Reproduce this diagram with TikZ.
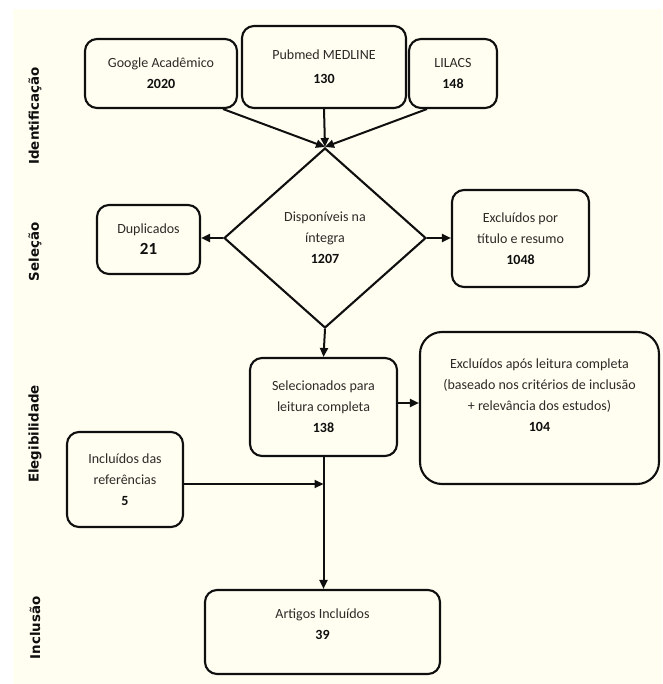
\documentclass[tikz,border=0pt]{standalone}
\usepackage{fontspec}
\setmainfont{Carlito}
\newfontfamily\labelfont{DejaVu Sans}
\usetikzlibrary{shapes.geometric,arrows.meta}
\definecolor{cream}{RGB}{255,254,241}
\definecolor{txt}{RGB}{45,42,40}
\definecolor{ink}{RGB}{15,15,15}
\tikzset{
  box/.style={draw=ink, line width=2.1pt, rounded corners=12pt, fill=cream,
    align=center, text=txt, inner sep=0pt,
    font=\fontsize{14}{21}\selectfont},
  dia/.style={draw=ink, line width=2.1pt, shape=diamond, fill=cream,
    align=center, text=txt, inner sep=0pt,
    font=\fontsize{14}{21}\selectfont},
  conn/.style={draw=ink, line width=2pt, -{Triangle[length=9pt,width=8pt]}},
  phase/.style={rotate=90, text=ink, font=\labelfont\bfseries\fontsize{13.4}{16}\selectfont}
}
\newcommand{\nb}[1]{{\bfseries\color{ink}#1}}
\begin{document}
\begin{tikzpicture}[x=1pt,y=-1pt]
\useasboundingbox (0,0) rectangle (662,684);
\fill[white] (0,0) rectangle (662,684);
\fill[cream] (13,9) rectangle (662,684);

% phase labels
\node[phase] (lid) at (35,116) {Identificação};
\node[phase] (lsel) at (35,252) {Seleção};
\node[phase] (leg) at (35,434) {Elegibilidade};
\node[phase] (linc) at (35,628) {Inclusão};

% identification boxes
\node[box, minimum width=152pt, minimum height=69pt] (g) at (161,73.5)
  {Google Acadêmico\\ \nb{2020}};
\node[box, minimum width=164pt, minimum height=82pt] (p) at (324,67)
  {Pubmed MEDLINE\\[3pt] \nb{130}};
\node[box, minimum width=88pt, minimum height=69pt] (l) at (453,73.5)
  {LILACS\\ \nb{148}};

% decision
\node[dia, minimum width=202pt, minimum height=180pt] (d) at (325,238)
  {Disponíveis na\\ íntegra\\ \nb{1207}};

\node[box, minimum width=103pt, minimum height=69pt] (dup) at (148.5,239.5)
  {Duplicados\\ {\fontsize{17}{21}\selectfont\nb{21}}};
\node[box, minimum width=137pt, minimum height=97pt] (ext) at (520.5,238.5)
  {Excluídos por\\ título e resumo\\ \nb{1048}};

% eligibility
\node[box, minimum width=147pt, minimum height=98pt] (sel) at (323.5,407)
  {Selecionados para\\ leitura completa\\ \nb{138}};
\node[box, rounded corners=22pt, minimum width=239pt, minimum height=152pt] (exa) at (539.5,408) {};
\node[align=center, text=txt, inner sep=0pt, font=\fontsize{14}{21}\selectfont] (exatxt) at (539.5,395)
  {Excluídos após leitura completa\\ (baseado nos critérios de inclusão\\ + relevância dos estudos)\\ \nb{104}};
\node[box, minimum width=116pt, minimum height=95pt] (inc) at (125,479.5)
  {Incluídos das\\ referências\\ \nb{5}};

% inclusion
\node[box, minimum width=235pt, minimum height=84pt] (art) at (322.5,632)
  {Artigos Incluídos\\ \nb{39}\\[-6pt]};

% connectors
\draw[conn] ([xshift=-15pt]g.south east) -- (d.north);
\draw[conn] (p.south) -- (d.north);
\draw[conn] ([xshift=19pt]l.south west) -- (d.north);
\draw[conn] (d.west) -- (d.west -| dup.east);
\draw[conn] (d.east) -- (d.east -| ext.west);
\draw[conn] (d.south) -- (sel.north);
\draw[conn] ([yshift=4pt]sel.east) -- ([yshift=4pt]sel.east -| exa.west);
\coordinate (join) at (323.5,484);
\draw[conn] (inc.east |- join) -- (join);
\draw[conn] (sel.south) -- (sel.south |- art.north);
\end{tikzpicture}
\end{document}
